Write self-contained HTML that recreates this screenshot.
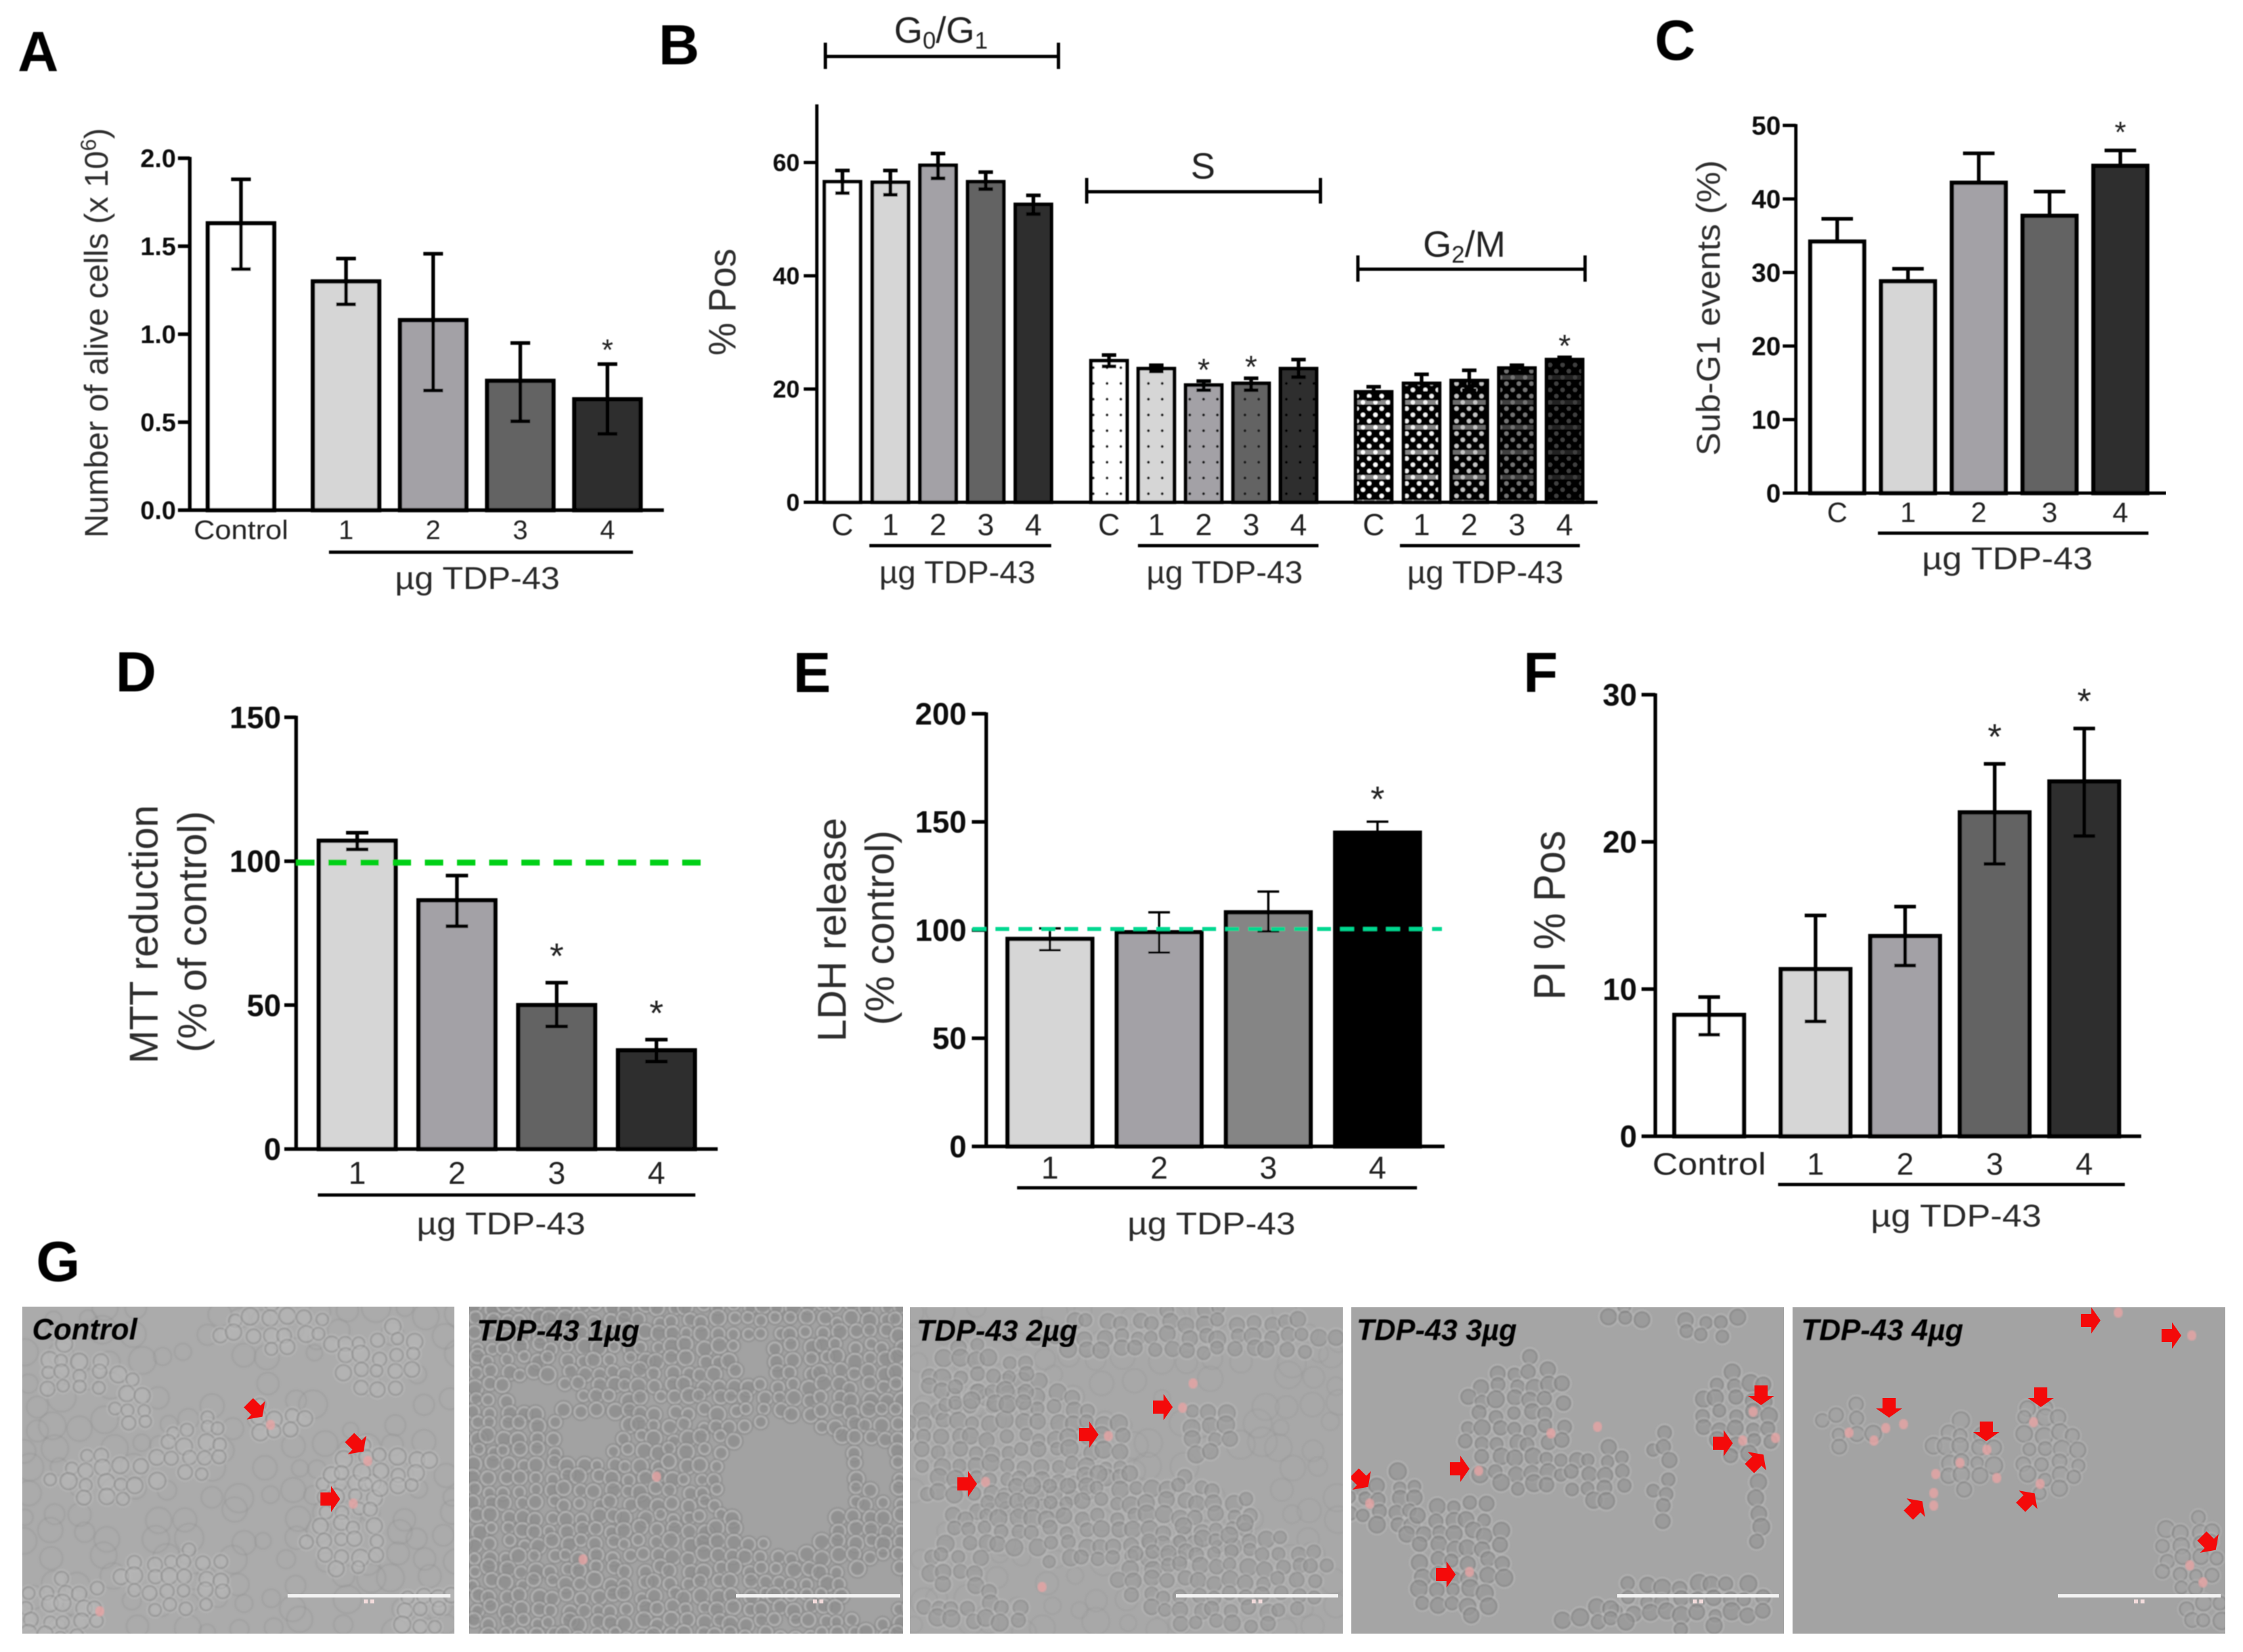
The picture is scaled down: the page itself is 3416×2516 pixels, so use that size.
<!DOCTYPE html>
<html lang="en">
<head>
<meta charset="utf-8">
<title>TDP-43 multi-panel figure</title>
<style>
html,body{margin:0;padding:0;background:#fff;width:3416px;height:2516px;overflow:hidden}
svg{display:block;font-family:"Liberation Sans",sans-serif}
.letter{font-weight:700;font-size:86px;fill:#000}
.ytitle{fill:#2e2e2e}
.tdp{fill:#2a2a2a;font-size:48px}
.mlabel{font-weight:700;font-style:italic;font-size:45px;fill:#000}
</style>
</head>
<body>
<svg id="figure" width="3416" height="2516" viewBox="0 0 3416 2516">
  <defs id="defs">
    <filter id="soft" x="-2%" y="-2%" width="104%" height="104%"><feGaussianBlur stdDeviation="1.4"/></filter>
    <filter id="chartsoft" x="0" y="0" width="100%" height="100%"><feGaussianBlur stdDeviation="0.9"/></filter>
  </defs>
  <rect width="3416" height="2516" fill="#fff"/>

  <g id="micrographs"></g>

  <g id="charts" filter="url(#chartsoft)">
    <g id="panelA"></g>
    <g id="panelB"></g>
    <g id="panelC"></g>
    <g id="panelD"></g>
    <g id="panelE"></g>
    <g id="panelF"></g>

    <!-- panel letters -->
    <text class="letter" x="27" y="108">A</text>
    <text class="letter" x="1003" y="98">B</text>
    <text class="letter" x="2520" y="91">C</text>
    <text class="letter" x="176" y="1053">D</text>
    <text class="letter" x="1208" y="1054">E</text>
    <text class="letter" x="2320" y="1054">F</text>
    <text class="letter" x="55" y="1951">G</text>

    <!-- y axis titles -->
    <text class="ytitle" font-size="50" text-anchor="middle" transform="translate(164 507) rotate(-90)">Number of alive cells (x 10<tspan font-size="33" dy="-18">6</tspan><tspan dy="18">)</tspan></text>
    <text class="ytitle" font-size="58" text-anchor="middle" textLength="163" lengthAdjust="spacingAndGlyphs" transform="translate(1120 460) rotate(-90)">% Pos</text>
    <text class="ytitle" font-size="50" text-anchor="middle" textLength="450" lengthAdjust="spacingAndGlyphs" transform="translate(2619 469) rotate(-90)">Sub-G1 events (%)</text>
    <text class="ytitle" font-size="61" text-anchor="middle" textLength="394" lengthAdjust="spacingAndGlyphs" transform="translate(240 1423) rotate(-90)">MTT reduction</text>
    <text class="ytitle" font-size="61" text-anchor="middle" textLength="368" lengthAdjust="spacingAndGlyphs" transform="translate(314 1419) rotate(-90)">(% of control)</text>
    <text class="ytitle" font-size="61" text-anchor="middle" textLength="341" lengthAdjust="spacingAndGlyphs" transform="translate(1288 1416) rotate(-90)">LDH release</text>
    <text class="ytitle" font-size="61" text-anchor="middle" textLength="297" lengthAdjust="spacingAndGlyphs" transform="translate(1361 1413) rotate(-90)">(% control)</text>
    <text class="ytitle" font-size="68" text-anchor="middle" textLength="258" lengthAdjust="spacingAndGlyphs" transform="translate(2383 1394) rotate(-90)">PI % Pos</text>

    <!-- dose underlines and labels -->
    <g stroke="#000" stroke-width="5">
      <line x1="501" x2="964" y1="841" y2="841"/>
      <line x1="1324" x2="1601" y1="831" y2="831"/>
      <line x1="1733" x2="2008" y1="831" y2="831"/>
      <line x1="2132" x2="2406" y1="831" y2="831"/>
      <line x1="2860" x2="3272" y1="812" y2="812"/>
      <line x1="484" x2="1059" y1="1820" y2="1820"/>
      <line x1="1549" x2="2158" y1="1809" y2="1809"/>
      <line x1="2708" x2="3236" y1="1804" y2="1804"/>
    </g>
    <text class="tdp" x="727" y="897" text-anchor="middle" textLength="251" lengthAdjust="spacingAndGlyphs">µg TDP-43</text>
    <text class="tdp" x="1458" y="888" text-anchor="middle" textLength="238" lengthAdjust="spacingAndGlyphs">µg TDP-43</text>
    <text class="tdp" x="1865" y="888" text-anchor="middle" textLength="238" lengthAdjust="spacingAndGlyphs">µg TDP-43</text>
    <text class="tdp" x="2262" y="888" text-anchor="middle" textLength="238" lengthAdjust="spacingAndGlyphs">µg TDP-43</text>
    <text class="tdp" x="3057" y="867" text-anchor="middle" textLength="260" lengthAdjust="spacingAndGlyphs">µg TDP-43</text>
    <text class="tdp" x="763" y="1880" text-anchor="middle" textLength="257" lengthAdjust="spacingAndGlyphs">µg TDP-43</text>
    <text class="tdp" x="1845" y="1880" text-anchor="middle" textLength="256" lengthAdjust="spacingAndGlyphs">µg TDP-43</text>
    <text class="tdp" x="2979" y="1868" text-anchor="middle" textLength="260" lengthAdjust="spacingAndGlyphs">µg TDP-43</text>

    <!-- panel B phase brackets -->
    <g stroke="#000" stroke-width="5" fill="none">
      <path d="M1257 65V105M1257 86H1612M1612 65V105"/>
      <path d="M1655 271V310M1655 292H2011M2011 271V310"/>
      <path d="M2068 389V429M2068 410H2414M2414 389V429"/>
    </g>
    <text x="1433" y="65" text-anchor="middle" font-size="56" fill="#222">G<tspan font-size="36" dy="9">0</tspan><tspan dy="-9">/G</tspan><tspan font-size="36" dy="9">1</tspan></text>
    <text x="1832" y="272" text-anchor="middle" font-size="56" fill="#222">S</text>
    <text x="2230" y="391" text-anchor="middle" font-size="56" fill="#222">G<tspan font-size="36" dy="9">2</tspan><tspan dy="-9">/M</tspan></text>
  </g>

  <g id="micrographLabels" filter="url(#chartsoft)">
    <text class="mlabel" x="49" y="2040">Control</text>
    <text class="mlabel" x="726" y="2042" textLength="248" lengthAdjust="spacingAndGlyphs">TDP-43 1µg</text>
    <text class="mlabel" x="1396" y="2042" textLength="245" lengthAdjust="spacingAndGlyphs">TDP-43 2µg</text>
    <text class="mlabel" x="2066" y="2041" textLength="244" lengthAdjust="spacingAndGlyphs">TDP-43 3µg</text>
    <text class="mlabel" x="2743" y="2041" textLength="247" lengthAdjust="spacingAndGlyphs">TDP-43 4µg</text>
  </g>
</svg>

<script>
/* ---------- chart data ---------- */
const panelACategories = ['Control', '1', '2', '3', '4'];
const panelAValues = [1.63, 1.30, 1.08, 0.735, 0.63];
const panelAHigh = [1.88, 1.43, 1.457, 0.95, 0.83];
const panelALow = [1.37, 1.17, 0.68, 0.505, 0.434];
const panelAStars = ['', '', '', '', '*'];
const panelATickValues = [0, 0.5, 1, 1.5, 2];
const panelATickLabels = ['0.0', '0.5', '1.0', '1.5', '2.0'];

const panelBCategories = ['C', '1', '2', '3', '4'];
const panelBG0Values = [56.6, 56.5, 59.5, 56.6, 52.6];
const panelBG0High = [58.6, 58.6, 61.6, 58.3, 54.2];
const panelBG0Low = [54.6, 54.3, 57.2, 55.3, 50.9];
const panelBG0Stars = ['', '', '', '', ''];
const panelBSValues = [25.0, 23.6, 20.7, 21.0, 23.6];
const panelBSHigh = [26.0, 24.2, 21.4, 21.9, 25.2];
const panelBSLow = [24.0, 23.1, 19.8, 19.8, 22.1];
const panelBSStars = ['', '', '*', '*', ''];
const panelBG2Values = [19.5, 21.0, 21.5, 23.7, 25.2];
const panelBG2High = [20.4, 22.6, 23.3, 24.2, 25.6];
const panelBG2Low = [18.2, 19.3, 19.8, 23.0, 24.9];
const panelBG2Stars = ['', '', '', '', '*'];
const panelBTickValues = [0, 20, 40, 60];
const panelBTickLabels = ['0', '20', '40', '60'];

const panelCCategories = ['C', '1', '2', '3', '4'];
const panelCValues = [34.2, 28.8, 42.2, 37.7, 44.5];
const panelCHigh = [37.3, 30.5, 46.2, 41.0, 46.6];
const panelCLow = [34.2, 28.8, 42.2, 37.7, 44.5];
const panelCStars = ['', '', '', '', '*'];
const panelCTickValues = [0, 10, 20, 30, 40, 50];
const panelCTickLabels = ['0', '10', '20', '30', '40', '50'];

const panelDCategories = ['1', '2', '3', '4'];
const panelDValues = [107.1, 86.4, 50, 34.3];
const panelDHigh = [109.9, 95, 57.8, 38];
const panelDLow = [104.1, 77.4, 42.6, 30.4];
const panelDStars = ['', '', '*', '*'];
const panelDTickValues = [0, 50, 100, 150];
const panelDTickLabels = ['0', '50', '100', '150'];
const panelDReference = 99.5;

const panelECategories = ['1', '2', '3', '4'];
const panelEValues = [95.9, 99, 108.2, 145];
const panelEHigh = [100.8, 108.2, 117.8, 150.1];
const panelELow = [90.7, 89.6, 99.4, 142];
const panelEStars = ['', '', '', '*'];
const panelETickValues = [0, 50, 100, 150, 200];
const panelETickLabels = ['0', '50', '100', '150', '200'];
const panelEReference = 100.5;

const panelFCategories = ['Control', '1', '2', '3', '4'];
const panelFValues = [8.24, 11.35, 13.6, 22, 24.1];
const panelFHigh = [9.46, 15, 15.6, 25.3, 27.7];
const panelFLow = [6.9, 7.8, 11.6, 18.5, 20.4];
const panelFStars = ['', '', '', '*', '*'];
const panelFTickValues = [0, 10, 20, 30];
const panelFTickLabels = ['0', '10', '20', '30'];

/* ---------- helpers ---------- */
const svgRoot = document.getElementById('figure');
const defs = document.getElementById('defs');
function make(tag, attrs, parent) {
  const el = document.createElementNS(svgRoot.namespaceURI, tag);
  for (const k in attrs) el.setAttribute(k, attrs[k]);
  if (parent) parent.appendChild(el);
  return el;
}
function linearScale(d0, r0, d1, r1) {
  return function (v) { return r0 + (v - d0) * (r1 - r0) / (d1 - d0); };
}
function bandScale(first, second, step) {
  return function (i) { return i === 0 ? first : second + (i - 1) * step; };
}

function drawBars(panel, prefix, cats, vals, hi, lo, stars, fills, x, y, o) {
  const base = y(0);
  cats.forEach(function (cat, i) {
    const c = x(i);
    const top = y(vals[i]);
    const bar = make('rect', { x: c - o.barW / 2, y: top, width: o.barW, height: base - top, fill: fills[i], stroke: '#000', 'stroke-width': o.barStroke }, panel);
    
    
    const d = 'M' + c + ' ' + y(hi[i]) + 'V' + y(lo[i]) +
      'M' + (c - o.cap / 2) + ' ' + y(hi[i]) + 'H' + (c + o.cap / 2) +
      (lo[i] < vals[i] ? 'M' + (c - o.cap / 2) + ' ' + y(lo[i]) + 'H' + (c + o.cap / 2) : '');
    const err = make('path', { d: d, fill: 'none', stroke: '#000', 'stroke-width': o.errStroke }, panel);
    
    
    const lab = make('text', { x: c, y: o.labelY, 'text-anchor': 'middle', 'font-size': o.labelSize, fill: '#222' }, panel);
    lab.textContent = cat;
    if (cat === 'Control') lab.setAttribute('textLength', o.controlWidth);
    if (cat === 'Control') lab.setAttribute('lengthAdjust', 'spacingAndGlyphs');
    
    
    if (stars[i]) {
      const st = make('text', { x: c, y: y(hi[i]) - o.starGap + 0.58 * o.starSize, 'text-anchor': 'middle', 'font-size': o.starSize, fill: '#222' }, panel);
      st.textContent = stars[i];
      
      
    }
  });
}

function drawAxes(panel, prefix, tickVals, tickLabels, y, o) {
  const yAxis = make('line', { x1: o.axisX, x2: o.axisX, y1: o.axisTop, y2: y(0) + 2, stroke: '#000', 'stroke-width': o.axisStroke }, panel);
  
  
  const xAxis = make('line', { x1: o.axisLeft, x2: o.axisRight, y1: y(0), y2: y(0), stroke: '#000', 'stroke-width': o.axisStroke }, panel);
  
  
  tickVals.forEach(function (v, i) {
    if (v !== 0) {
      const t = make('line', { x1: o.axisLeft, x2: o.axisX, y1: y(v), y2: y(v), stroke: '#000', 'stroke-width': o.axisStroke }, panel);
      
      
    }
    const lab = make('text', { x: o.tickRight, y: y(v) + 0.35 * o.tickSize, 'text-anchor': 'end', 'font-size': o.tickSize, 'font-weight': 700, fill: '#0a0a0a' }, panel);
    lab.textContent = tickLabels[i];
    
    
  });
}

function drawReference(panel, prefix, value, y, o) {
  const ref = make('line', { x1: o.x1, x2: o.x2, y1: y(value), y2: y(value), stroke: o.color, 'stroke-width': o.width, 'stroke-dasharray': o.dash }, panel);
  
  
}

/* shades shared by every panel */
const greys = ['#ffffff', '#d6d6d6', '#a3a1a6', '#636363', '#2e2e2e'];
const checkDots = ['#ffffff', '#f2f2f2', '#c4c4c4', '#747474', '#404040'];

/* fill patterns for the S and G2/M groups of panel B */
greys.forEach(function (g, i) {
  const p1 = make('pattern', { id: 'dots' + i, width: 21, height: 24, patternUnits: 'userSpaceOnUse' }, defs);
  make('rect', { width: 21, height: 24, fill: g }, p1);
  make('circle', { cx: 6, cy: 8, r: 2.2, fill: i === 4 ? '#000' : '#1a1a1a' }, p1);
  const p2 = make('pattern', { id: 'check' + i, width: 19, height: 38, patternUnits: 'userSpaceOnUse' }, defs);
  make('rect', { width: 19, height: 38, fill: '#000' }, p2);
  make('rect', { y: 1.5, width: 19, height: 6.5, fill: checkDots[i], opacity: 0.55 }, p2);
  [[4.75, 4.75], [14.25, 14.25], [4.75, 23.75], [14.25, 33.25]].forEach(function (d) {
    make('circle', { cx: d[0], cy: d[1], r: 3.3, fill: checkDots[i] }, p2);
  });
});

/* ---------- panel A ---------- */
(function () {
  const panel = document.getElementById('panelA');
  const y = linearScale(0, 777, 2, 241);
  const x = bandScale(367, 527, 132.7);
  drawBars(panel, 'a', panelACategories, panelAValues, panelAHigh, panelALow, panelAStars, greys, x, y,
    { barW: 101, barStroke: 6.5, cap: 30, errStroke: 5.5, labelY: 821, labelSize: 41, controlWidth: 144, starSize: 45, starGap: 32 });
  drawAxes(panel, 'a', panelATickValues, panelATickLabels, y,
    { axisX: 289, axisTop: 239, axisLeft: 271, axisRight: 1011, axisStroke: 5.5, tickRight: 268, tickSize: 39 });
})();

/* ---------- panel B ---------- */
(function () {
  const panel = document.getElementById('panelB');
  const y = linearScale(0, 765, 60, 247.5);
  const opts = { barW: 55, barStroke: 5.5, cap: 22, errStroke: 5.5, labelY: 815, labelSize: 46, starSize: 48, starGap: 29 };
  drawBars(panel, 'b-g0-g1', panelBCategories, panelBG0Values, panelBG0High, panelBG0Low, panelBG0Stars, greys,
    bandScale(1283, 1356, 72.6), y, opts);
  drawBars(panel, 'b-s', panelBCategories, panelBSValues, panelBSHigh, panelBSLow, panelBSStars,
    greys.map(function (g, i) { return 'url(#dots' + i + ')'; }), bandScale(1689, 1761, 72.2), y, opts);
  drawBars(panel, 'b-g2-m', panelBCategories, panelBG2Values, panelBG2High, panelBG2Low, panelBG2Stars,
    greys.map(function (g, i) { return 'url(#check' + i + ')'; }), bandScale(2092, 2165, 72.6), y, opts);
  drawAxes(panel, 'b', panelBTickValues, panelBTickLabels, y,
    { axisX: 1244, axisTop: 159, axisLeft: 1224, axisRight: 2433, axisStroke: 5, tickRight: 1218, tickSize: 37 });
})();

/* ---------- panel C ---------- */
(function () {
  const panel = document.getElementById('panelC');
  const y = linearScale(0, 751, 50, 191);
  const x = bandScale(2798, 2905.8, 107.8);
  drawBars(panel, 'c', panelCCategories, panelCValues, panelCHigh, panelCLow, panelCStars, greys, x, y,
    { barW: 82, barStroke: 6.5, cap: 48, errStroke: 5.5, labelY: 795, labelSize: 43, starSize: 45, starGap: 38 });
  drawAxes(panel, 'c', panelCTickValues, panelCTickLabels, y,
    { axisX: 2735, axisTop: 189, axisLeft: 2715, axisRight: 3299, axisStroke: 5, tickRight: 2712, tickSize: 40 });
})();

/* ---------- panel D ---------- */
(function () {
  const panel = document.getElementById('panelD');
  const y = linearScale(0, 1750, 150, 1092.4);
  const x = bandScale(544, 695.9, 151.9);
  drawBars(panel, 'd', panelDCategories, panelDValues, panelDHigh, panelDLow, panelDStars, greys.slice(1), x, y,
    { barW: 117, barStroke: 6.5, cap: 34, errStroke: 5.5, labelY: 1803, labelSize: 48, starSize: 55, starGap: 54 });
  drawAxes(panel, 'd', panelDTickValues, panelDTickLabels, y,
    { axisX: 451, axisTop: 1090, axisLeft: 433, axisRight: 1093, axisStroke: 5.5, tickRight: 428, tickSize: 47 });
  drawReference(panel, 'd', panelDReference, y, { x1: 451, x2: 1075, color: '#00d016', width: 9, dash: '28 21' });
})();

/* ---------- panel E ---------- */
(function () {
  const panel = document.getElementById('panelE');
  const y = linearScale(0, 1746, 200, 1087);
  const x = bandScale(1599, 1765.3, 166.3);
  drawBars(panel, 'e', panelECategories, panelEValues, panelEHigh, panelELow, panelEStars, ['#d6d6d6', '#a3a1a6', '#858585', '#000000'], x, y,
    { barW: 129, barStroke: 6.5, cap: 33, errStroke: 3.5, labelY: 1795, labelSize: 48, starSize: 55, starGap: 48 });
  drawAxes(panel, 'e', panelETickValues, panelETickLabels, y,
    { axisX: 1502, axisTop: 1085, axisLeft: 1480, axisRight: 2200, axisStroke: 5.5, tickRight: 1472, tickSize: 47 });
  drawReference(panel, 'e', panelEReference, y, { x1: 1481, x2: 2196, color: '#00d890', width: 6, dash: '21 14' });
})();

/* ---------- panel F ---------- */
(function () {
  const panel = document.getElementById('panelF');
  const y = linearScale(0, 1730.5, 30, 1058);
  const x = bandScale(2603, 2765, 136.4);
  drawBars(panel, 'f', panelFCategories, panelFValues, panelFHigh, panelFLow, panelFStars, greys, x, y,
    { barW: 106, barStroke: 6.5, cap: 33, errStroke: 5.5, labelY: 1789, labelSize: 47, controlWidth: 173, starSize: 55, starGap: 55 });
  drawAxes(panel, 'f', panelFTickValues, panelFTickLabels, y,
    { axisX: 2521, axisTop: 1056, axisLeft: 2500, axisRight: 3261, axisStroke: 5.5, tickRight: 2493, tickSize: 47 });
})();
</script>

<script>
/* ---------- panel G: schematic micrograph texture (not chart data) ---------- */
const micrographRoot = document.getElementById('micrographs');
const micrographPanels = [
  { name: 'control', x: 34, y: 1990, w: 658, h: 498, bg: '#ababab', ring: '#7c7c7c', core: '#bababa', halo: '#c0c0c0', op: 0.6, step: 26, r: 9, faint: 0.3,
    bar: [438, 686],
    clusters: [[580,2070,80,49],[116,2087,71,40],[420,2022,89,36],[160,2253,80,40],[295,2204,62,49],[420,2164,54,28],[527,2322,62,89],[580,2237,80,40],[268,2407,89,49],[89,2448,70,48],[643,2448,54,40],[200,2140,30,40]],
    holes: [],
    arrows: [[389,2147,45],[543,2200,45],[503,2283,0]],
    pink: [[152,2454],[412,2170],[560,2225],[538,2290]] },
  { name: '1ug', x: 714, y: 1990, w: 661, h: 498, bg: '#a2a2a2', ring: '#c2c2c2', core: '#8c8c8c', halo: '#848484', op: 0.75, step: 23, r: 8, faint: 0,
    bar: [1121, 1371],
    clusters: [[1044,2240,480,370]],
    holes: [[1197,2257,92,100],[893,2188,50,34],[822,2123,40,30],[1330,2428,45,45],[1145,2070,30,24],[1340,2240,25,36]],
    arrows: [],
    pink: [[1000,2249],[888,2375]] },
  { name: '2ug', x: 1386, y: 1991, w: 659, h: 497, bg: '#a8a8a8', ring: '#7e7e7e', core: '#9c9c9c', halo: '#bfbfbf', op: 0.62, step: 25, r: 9, faint: 0.22,
    bar: [1791, 2038],
    clusters: [[1549,2208,166,106],[1841,2173,46,46],[1682,2315,232,71],[1867,2403,166,82],[1449,2385,60,35],[1814,2031,232,39],[1483,2456,80,32],[1500,2100,90,50]],
    holes: [],
    arrows: [[1771,2143,0],[1658,2185,0],[1473,2260,0]],
    pink: [[1817,2107],[1801,2144],[1688,2187],[1501,2257],[1587,2417]] },
  { name: '3ug', x: 2058, y: 1991, w: 659, h: 497, bg: '#a5a5a5', ring: '#767676', core: '#989898', halo: '#bdbdbd', op: 0.7, step: 25, r: 9, faint: 0,
    bar: [2463, 2709],
    clusters: [[2311,2173,80,106],[2112,2290,60,50],[2218,2368,80,99],[2651,2159,60,71],[2433,2247,60,46],[2532,2244,20,82],[2578,2439,119,46],[2479,2006,33,18],[2605,2013,60,25],[2433,2467,53,21],[2670,2300,16,60]],
    holes: [],
    arrows: [[2073,2254,45],[2223,2237,0],[2202,2398,0],[2682,2125,90],[2624,2198,0],[2675,2226,-45]],
    pink: [[2362,2183],[2252,2240],[2086,2290],[2238,2394],[2433,2173],[2654,2194],[2704,2190],[2670,2150]] },
  { name: '4ug', x: 2730, y: 1991, w: 659, h: 497, bg: '#a3a3a3', ring: '#7b7b7b', core: '#a4a4a4', halo: '#b8b8b8', op: 0.72, step: 25, r: 9, faint: 0,
    bar: [3134, 3382],
    clusters: [[2816,2173,40,35],[2994,2222,53,60],[3120,2208,60,67],[3331,2368,60,60],[3351,2456,40,32]],
    holes: [],
    arrows: [[3184,2011,0],[3307,2034,0],[2877,2144,90],[3108,2128,90],[3025,2180,90],[2917,2297,-45],[3088,2285,-45],[3364,2350,45]],
    pink: [[3226,1999],[3338,2034],[2872,2175],[2899,2169],[2816,2182],[2854,2194],[3026,2208],[2985,2228],[2948,2245],[2945,2274],[2945,2293],[3041,2251],[3107,2260],[3097,2166],[3335,2384],[3355,2410]] }
];

function jitter(n) { const s = Math.sin(n * 12.9898) * 43758.5453; return s - Math.floor(s); }

function addEl(tag, attrs, parent) {
  const el = document.createElementNS(micrographRoot.namespaceURI, tag);
  for (const k in attrs) el.setAttribute(k, attrs[k]);
  parent.appendChild(el);
  return el;
}
const defsEl = document.getElementById('defs');
micrographPanels.forEach(function (p, pi) {
  const clip = addEl('clipPath', { id: 'clip' + pi }, defsEl);
  addEl('rect', { x: p.x, y: p.y, width: p.w, height: p.h }, clip);
  const g = addEl('g', { 'clip-path': 'url(#clip' + pi + ')' }, micrographRoot);
  
  
  const bg = addEl('rect', { x: p.x, y: p.y, width: p.w, height: p.h, fill: p.bg }, g);
  
  
  const cells = addEl('g', { filter: 'url(#soft)' }, g);
  
  
  const step = p.step;
  let n = pi * 1000 + 1;
  if (p.faint) {
    for (let yy = p.y; yy <= p.y + p.h; yy += 34) {
      for (let xx = p.x; xx <= p.x + p.w; xx += 40) {
        n++;
        if (jitter(n) < 0.35) continue;
        const wisp = addEl('circle', { cx: xx + jitter(n + 0.3) * 24, cy: yy + jitter(n + 0.6) * 20, r: 12 + jitter(n + 0.9) * 10, fill: 'none', stroke: '#868686', 'stroke-width': 2.2, opacity: p.faint }, cells);
        
        
      }
    }
  }
  p.clusters.forEach(function (c) {
    for (let yy = c[1] - c[3]; yy <= c[1] + c[3]; yy += step * 0.87) {
      for (let xx = c[0] - c[2]; xx <= c[0] + c[2]; xx += step) {
        n++;
        const ox = xx + (jitter(n) - 0.5) * 12;
        const oy = yy + (jitter(n + 0.5) - 0.5) * 10;
        const dx = (ox - c[0]) / c[2], dy = (oy - c[1]) / c[3];
        if (dx * dx + dy * dy > 1 + (jitter(n + 0.25) - 0.5) * 0.35) continue;
        if (p.holes.some(function (h) { const a = (ox - h[0]) / h[2], b = (oy - h[1]) / h[3]; return a * a + b * b < 1; })) continue;
        const r = p.r + jitter(n + 0.75) * 4;
        addEl('circle', { cx: ox, cy: oy, r: r + 2.5, fill: 'none', stroke: p.halo, 'stroke-width': 2.2, opacity: p.op }, cells);
        const cell = addEl('circle', { cx: ox, cy: oy, r: r, fill: p.core, stroke: p.ring, 'stroke-width': 2.2, opacity: p.op }, cells);
        
        
      }
    }
  });
  p.pink.forEach(function (d) {
    const dot = addEl('ellipse', { cx: d[0], cy: d[1], rx: 7, ry: 8, fill: '#e8a4a4', opacity: 0.8, filter: 'url(#soft)' }, g);
    
    
  });
  const scale = addEl('rect', { x: p.bar[0], y: 2428, width: p.bar[1] - p.bar[0], height: 5, fill: '#f4f4f4' }, g);
  
  
  const mid = (p.bar[0] + p.bar[1]) / 2;
  [-5, 5].forEach(function (off) {
    const tick = addEl('rect', { x: mid + off - 3, y: 2436, width: 6, height: 6, fill: '#f3dcdc' }, g);
    
    
  });
  p.arrows.forEach(function (a) {
    const arrow = addEl('path', { d: 'M-15 -10L1 -10L1 -20L15 0L1 20L1 10L-15 10Z', fill: '#f40a0a', transform: 'translate(' + a[0] + ' ' + a[1] + ') rotate(' + a[2] + ')' }, g);
    
    
  });
});
</script>
</body>
</html>
